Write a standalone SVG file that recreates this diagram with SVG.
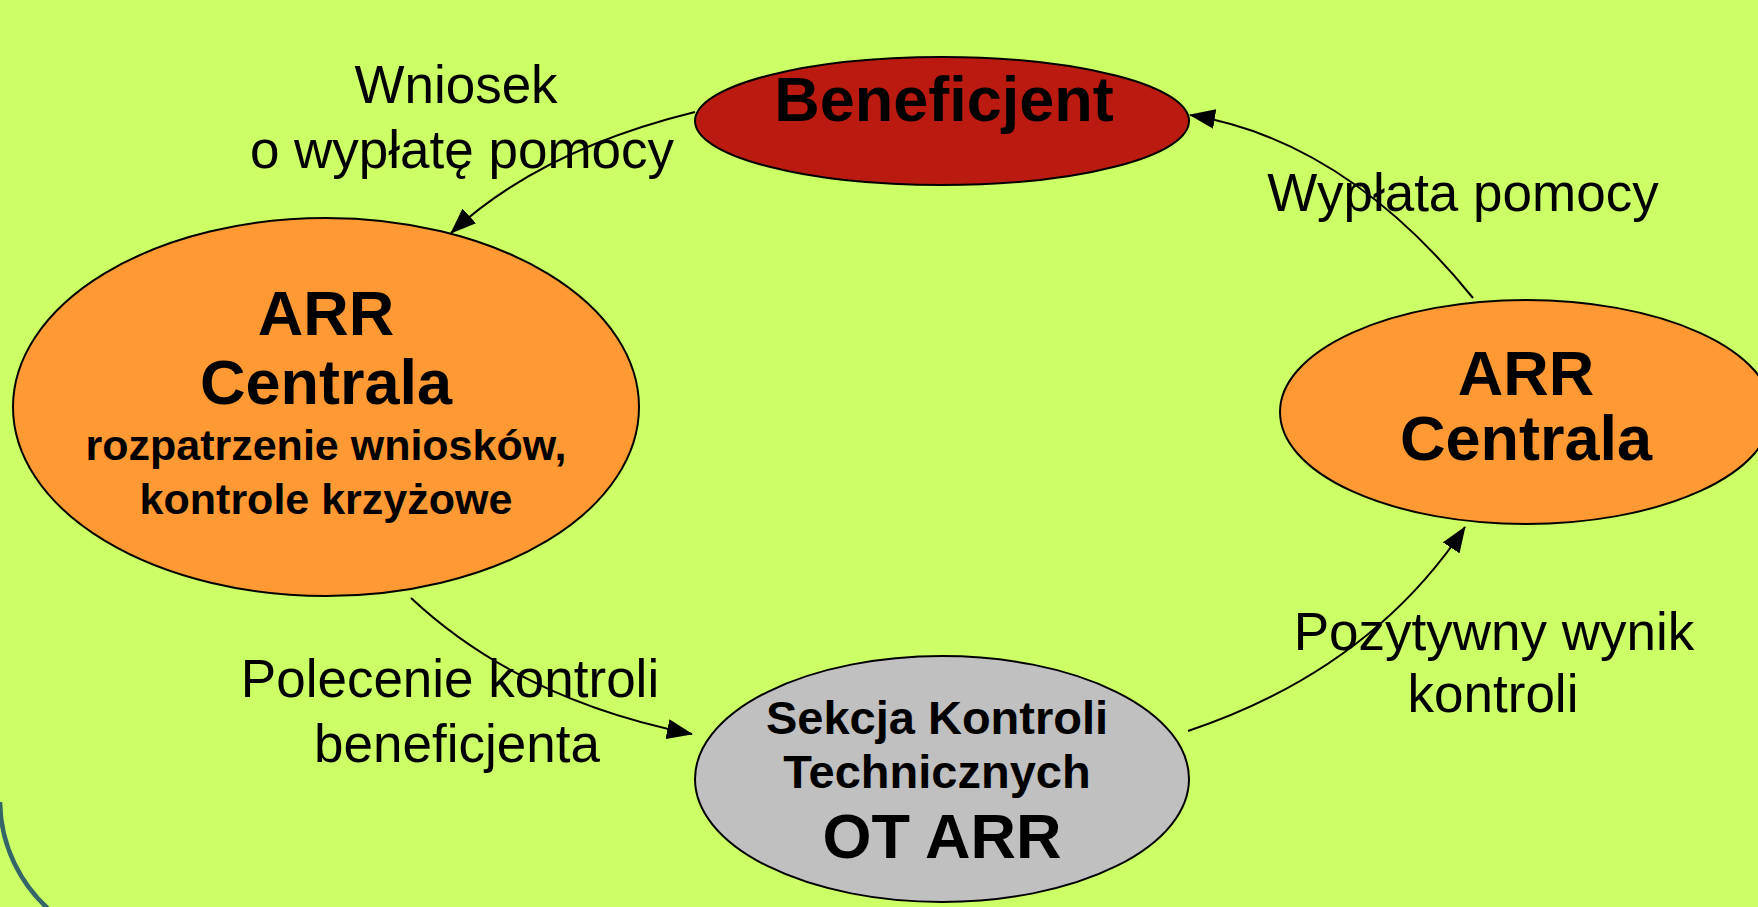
<svg xmlns="http://www.w3.org/2000/svg" width="1758" height="907" viewBox="0 0 1758 907">
<style>
.node{stroke:#000;stroke-width:2}
.b{font-family:"Liberation Sans",Arial,sans-serif;font-weight:bold;fill:#000;text-anchor:middle}
.l{font-family:"Liberation Sans",Arial,sans-serif;fill:#000;text-anchor:middle;font-size:53px}
.c{fill:none;stroke:#000;stroke-width:2}
</style>
<defs>
<marker id="ah" viewBox="0 0 26 20" refX="25" refY="10" markerWidth="26" markerHeight="20" markerUnits="userSpaceOnUse" orient="auto">
<path d="M0,0 L26,10 L0,20 Z" fill="#000"/>
</marker>
</defs>
<rect width="1758" height="907" fill="#CCFF66"/>
<path d="M0,802 A147,147 0 0 0 53,913" fill="none" stroke="#336666" stroke-width="4.5"/>
<g id="connectors">
<path class="c" d="M695,112 Q540,150 451,233" marker-end="url(#ah)"/>
<path class="c" d="M1473,298 Q1345,140 1190,115" marker-end="url(#ah)"/>
<path class="c" d="M411,598 Q520,700 692,734" marker-end="url(#ah)"/>
<path class="c" d="M1188,731 Q1370,670 1465,527" marker-end="url(#ah)"/>
</g>
<g id="beneficjent">
<ellipse class="node" cx="942" cy="121" rx="247" ry="64" fill="#BB1A11"/>
<text class="b" x="944" y="121" font-size="63">Beneficjent</text>
</g>
<g id="arr-centrala-left">
<ellipse class="node" cx="326" cy="407" rx="313" ry="189" fill="#FF9933"/>
<text class="b" x="326" y="335" font-size="63">ARR</text>
<text class="b" x="326" y="404" font-size="63">Centrala</text>
<text class="b" x="326" y="460" font-size="43">rozpatrzenie wniosków,</text>
<text class="b" x="326" y="514" font-size="43">kontrole krzyżowe</text>
</g>
<g id="arr-centrala-right">
<ellipse class="node" cx="1526" cy="412" rx="246" ry="112" fill="#FF9933"/>
<text class="b" x="1526" y="395" font-size="63">ARR</text>
<text class="b" x="1526" y="460" font-size="63">Centrala</text>
</g>
<g id="sekcja">
<ellipse class="node" cx="942" cy="779" rx="247" ry="123" fill="#C0C0C0"/>
<text class="b" x="937" y="734" font-size="47">Sekcja Kontroli</text>
<text class="b" x="937" y="788" font-size="47">Technicznych</text>
<text class="b" x="942" y="858" font-size="63">OT ARR</text>
</g>
<g id="labels">
<text class="l" x="456" y="103">Wniosek</text>
<text class="l" x="462" y="168">o wypłatę pomocy</text>
<text class="l" x="1463" y="211">Wypłata pomocy</text>
<text class="l" x="450" y="697">Polecenie kontroli</text>
<text class="l" x="457" y="762">beneficjenta</text>
<text class="l" x="1494" y="650">Pozytywny wynik</text>
<text class="l" x="1493" y="712">kontroli</text>
</g>
</svg>
